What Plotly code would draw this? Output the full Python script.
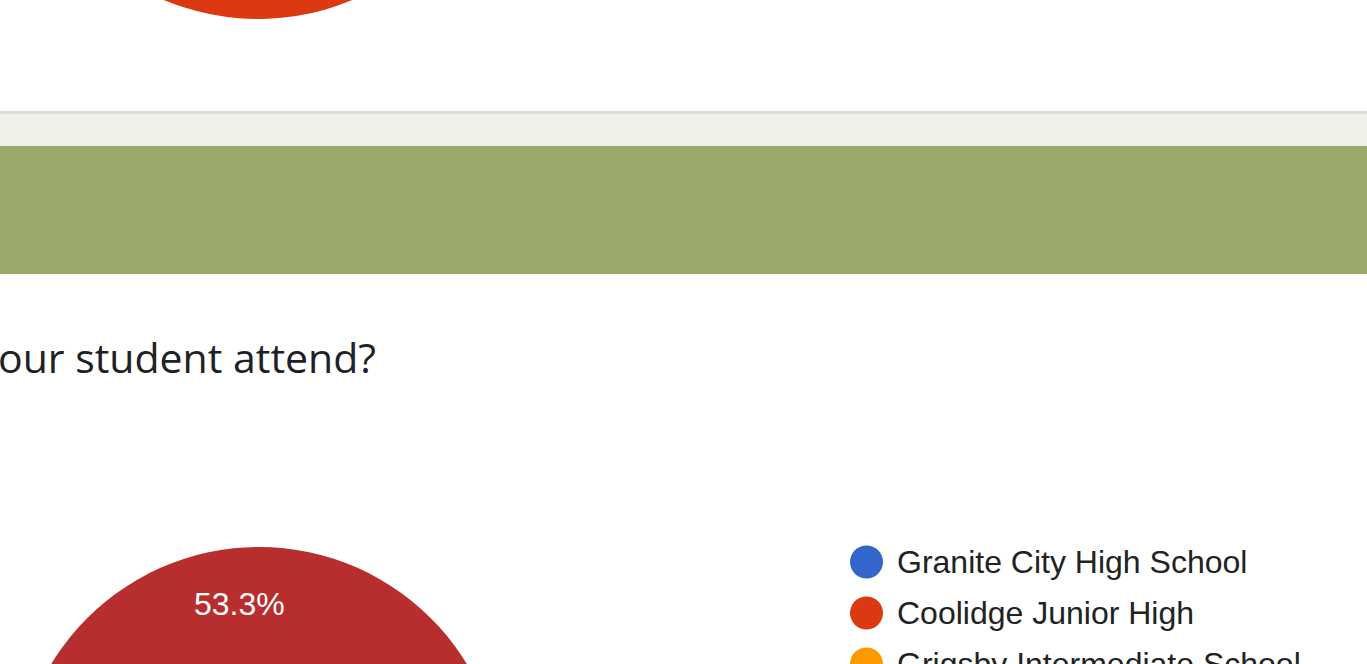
import math
import plotly.graph_objects as go

# ---------------- data ----------------
# previous question's pie (only its lower rim is visible at the top)
prev_labels = ["Granite City High School", "Coolidge Junior High"]
prev_values = [40.0, 60.0]
prev_colors = ["#3366cc", "#dc3912"]

# this question's pie (only the top of the 53.3% slice is visible)
pie_labels = ["Other", "Remaining answers"]
pie_values = [53.3, 46.7]
pie_colors = ["#b82e2e", "#3366cc"]

# legend entries visible in the picture
legend_labels = ["Granite City High School", "Coolidge Junior High", "Grigsby Intermediate School"]
legend_colors = ["#3366cc", "#dc3912", "#ff9900"]

question_text = "our student attend?"

# ---------------- geometry / style ----------------
W = 1367
VIEW_H = 664
OFFSET = 480          # figure top sits this far above the visible window
H = 1560
R = 243               # pie radius in px
PIE_ROT = -102        # start angle of main pie (deg, clockwise from 12 o'clock)
LABEL_K = 0.77        # label distance as fraction of radius

def vy(y):            # visible-window y -> figure y
    return y + OFFSET

def pie_domain(cx, cy, r):
    return dict(x=[(cx - r) / W, (cx + r) / W],
                y=[1 - (cy + r) / H, 1 - (cy - r) / H])

prev_c = (258, vy(-224))
main_c = (259, vy(790))

fig = go.Figure()

fig.add_trace(go.Pie(labels=prev_labels, values=prev_values, sort=False,
                     direction="clockwise", rotation=0,
                     marker=dict(colors=prev_colors, line=dict(width=0)),
                     textinfo="none", hoverinfo="skip", showlegend=False,
                     domain=pie_domain(*prev_c, R)))

fig.add_trace(go.Pie(labels=pie_labels, values=pie_values, sort=False,
                     direction="clockwise", rotation=PIE_ROT,
                     marker=dict(colors=pie_colors, line=dict(width=0)),
                     textinfo="none", hoverinfo="skip", showlegend=False,
                     domain=pie_domain(*main_c, R)))

# legend drawn on a pixel-scaled overlay axis
row_y = [vy(562 + 51 * i) for i in range(len(legend_labels))]
fig.add_trace(go.Scatter(x=[866.5] * len(legend_labels), y=row_y, mode="markers",
                         marker=dict(size=33, color=legend_colors, line=dict(width=0)),
                         hoverinfo="skip", showlegend=False))
fig.add_trace(go.Scatter(x=[897] * len(legend_labels), y=[y + 3 for y in row_y], mode="text",
                         text=legend_labels, textposition="middle right",
                         textfont=dict(family="Arial, Liberation Sans", size=32, color="#222222"),
                         hoverinfo="skip", showlegend=False))

# percentage label for the first slice of the main pie
total = sum(pie_values)
frac = pie_values[0] / total
mid = math.radians(PIE_ROT + frac * 360 / 2)
lx = main_c[0] + LABEL_K * R * math.sin(mid)
ly = main_c[1] - LABEL_K * R * math.cos(mid)
annotations = [
    dict(x=lx, y=ly, xref="x", yref="y", text=f"{100 * frac:.1f}%", showarrow=False,
         xanchor="center", yanchor="middle",
         font=dict(family="Arial, Liberation Sans", size=32, color="#ffffff")),
    dict(x=378, y=vy(357), xref="x", yref="y", text=question_text, showarrow=False,
         xanchor="right", yanchor="middle",
         font=dict(family="Open Sans", size=41, color="#202124")),
]

shapes = [
    dict(type="rect", xref="x", yref="y", x0=0, x1=W, y0=vy(111), y1=vy(114),
         fillcolor="#dadce0", line=dict(width=0), layer="below"),
    dict(type="rect", xref="x", yref="y", x0=0, x1=W, y0=vy(114), y1=vy(146),
         fillcolor="#f0f0e8", line=dict(width=0), layer="below"),
    dict(type="rect", xref="x", yref="y", x0=0, x1=W, y0=vy(146), y1=vy(274),
         fillcolor="#9ba96c", line=dict(width=0), layer="below"),
]

fig.update_layout(
    width=W, height=H,
    margin=dict(l=0, r=0, t=0, b=0),
    paper_bgcolor="#ffffff", plot_bgcolor="rgba(0,0,0,0)",
    xaxis=dict(range=[0, W], visible=False, fixedrange=True),
    yaxis=dict(range=[H, 0], visible=False, fixedrange=True),
    shapes=shapes, annotations=annotations,
)

post = ("var gd=document.getElementById('{plot_id}');"
        "document.documentElement.style.overflow='hidden';"
        "document.body.style.margin='0';"
        "document.body.style.overflow='hidden';"
        "document.body.style.height='" + str(VIEW_H) + "px';"
        "gd.style.marginTop='-" + str(OFFSET) + "px';")

fig.write_html("out.html", config={"displayModeBar": False, "staticPlot": True},
               post_script=post)
